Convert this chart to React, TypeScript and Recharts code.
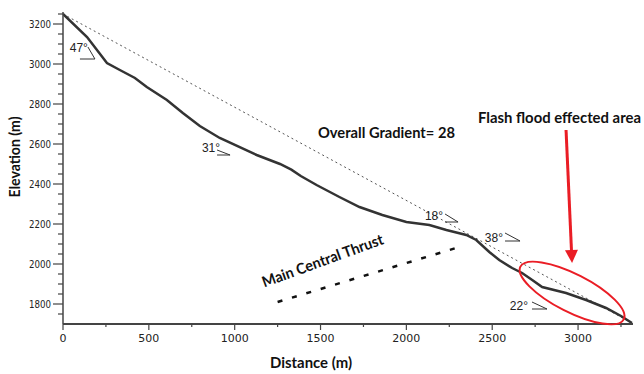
import React from 'react';
import { LineChart, Line, XAxis, YAxis, ReferenceDot, ReferenceLine, Label } from 'recharts';

// Longitudinal profile (distance in m, elevation in m)
const profileDistance = [0, 140, 256, 331, 419, 488, 605, 698, 797, 913, 1128, 1264, 1330, 1385, 1477, 1610, 1727, 1860, 2000, 2134, 2233, 2349, 2407, 2483, 2541, 2616, 2674, 2733, 2791, 2930, 3047, 3163, 3250, 3314];
const profileElevation = [3250, 3135, 3005, 2970, 2930, 2885, 2820, 2755, 2690, 2630, 2545, 2500, 2472, 2440, 2395, 2335, 2285, 2245, 2210, 2195, 2170, 2145, 2120, 2060, 2020, 1980, 1955, 1920, 1885, 1855, 1820, 1780, 1740, 1705];

// Overall gradient straight line
const gradientDistance = [0, 3314];
const gradientElevation = [3250, 1705];

// Main Central Thrust trace
const thrustDistance = [1250, 2308];
const thrustElevation = [1810, 2085];

// Axis ticks
const xTicks = [0, 250, 500, 750, 1000, 1250, 1500, 1750, 2000, 2250, 2500, 2750, 3000, 3250];
const yTicks = [1750, 1800, 1850, 1900, 1950, 2000, 2050, 2100, 2150, 2200, 2250, 2300, 2350, 2400, 2450, 2500, 2550, 2600, 2650, 2700, 2750, 2800, 2850, 2900, 2950, 3000, 3050, 3100, 3150, 3200, 3250];

// Slope angle annotations
const angleLabels = ['47°', '31°', '18°', '38°', '22°'];
const angleDistance = [186, 973, 2301, 2662, 2819];
const angleElevation = [3025, 2545, 2210, 2115, 1775];

// Text annotations
const noteTexts = ['Overall Gradient= 28', 'Flash flood effected area', 'Main Central Thrust'];
const noteDistance = [1485, 2417, 1515];
const noteElevation = [2630, 2705, 2010];

// Flash flood arrow and area
const arrowDistance = [2930, 2965];
const arrowElevation = [2670, 2005];
const areaDistance = 2965;
const areaElevation = 1855;

const profileData = profileDistance.map((d, i) => ({ d, e: profileElevation[i] }));
const gradientData = gradientDistance.map((d, i) => ({ d, e: gradientElevation[i] }));
const thrustData = thrustDistance.map((d, i) => ({ d, e: thrustElevation[i] }));

// styling for annotations (pixel offsets relative to anchor)
const angleStyle = [
  { tx: -7, ty: -7, sx: -7, sy: -12, w: 15 },
  { tx: -10, ty: -3, sx: -13, sy: -5, w: 13 },
  { tx: -15, ty: -2, sx: -13, sy: -8, w: 13 },
  { tx: -17, ty: 1, sx: -15, sy: -8, w: 15 },
  { tx: -19, ty: 1, sx: -15, sy: -7, w: 15 },
];
const noteStyle = [
  { anchor: 'start', len: 137, rot: 0, size: 15 },
  { anchor: 'start', len: 163, rot: 0, size: 15 },
  { anchor: 'middle', len: 128, rot: -20, size: 15 },
];

const RED = '#ea1d25';
const AXIS = '#444';
const TICKFONT = 'DejaVu Sans, Verdana, sans-serif';
const TITLEFONT = 'Lato, Open Sans, sans-serif';

const YTick = (props: any) => {
  const { x, y, payload } = props;
  const major = payload.value % 200 === 0;
  return (
    <g>
      <line x1={x - (major ? 10 : 5)} x2={x} y1={y} y2={y} stroke={AXIS} strokeWidth={1.2} />
      {major && (
        <text x={x - 12} y={y} dy={4} textAnchor="end" fontSize={11} fontFamily={TICKFONT} fill="#222" textLength={22} lengthAdjust="spacingAndGlyphs">
          {payload.value}
        </text>
      )}
    </g>
  );
};

const XTick = (props: any) => {
  const { x, y, payload } = props;
  const major = payload.value % 500 === 0;
  return (
    <g>
      <line x1={x} x2={x} y1={y} y2={y + (major ? 6 : 3)} stroke={AXIS} strokeWidth={1.2} />
      {major && (
        <text x={x} y={y + 18} textAnchor="middle" fontSize={11} fontFamily={TICKFONT} fill="#222">
          {payload.value}
        </text>
      )}
    </g>
  );
};

const makeAngleShape = (i: number) => (props: any) => {
  const { cx, cy } = props;
  const s = angleStyle[i];
  return (
    <g>
      <text x={cx + s.tx} y={cy + s.ty} textAnchor="end" fontSize={12} fontFamily="Liberation Sans, Arial, sans-serif" fill="#222">
        {angleLabels[i]}
      </text>
      <line x1={cx - s.w} y1={cy} x2={cx} y2={cy} stroke="#333" strokeWidth={1} />
      <line x1={cx + s.sx} y1={cy + s.sy} x2={cx} y2={cy} stroke="#333" strokeWidth={1} />
    </g>
  );
};

const makeNoteShape = (i: number) => (props: any) => {
  const { cx, cy } = props;
  const s = noteStyle[i];
  return (
    <text
      x={cx}
      y={cy}
      textAnchor={s.anchor}
      fontSize={s.size}
      fontWeight="bold"
      fontFamily={TITLEFONT}
      fill="#111"
      textLength={s.len}
      lengthAdjust="spacingAndGlyphs"
      transform={s.rot ? `rotate(${s.rot} ${cx} ${cy})` : undefined}
      dominantBaseline={s.rot ? 'middle' : undefined}
    >
      {noteTexts[i]}
    </text>
  );
};

const ellipseShape = (props: any) => {
  const { cx, cy } = props;
  return <ellipse cx={cx} cy={cy} rx={58} ry={19} fill="none" stroke={RED} strokeWidth={2} transform={`rotate(27 ${cx} ${cy})`} />;
};

const arrowShape = (props: any) => {
  const { x1, y1, x2, y2 } = props;
  const dx = x2 - x1;
  const dy = y2 - y1;
  const len = Math.sqrt(dx * dx + dy * dy) || 1;
  const ux = dx / len;
  const uy = dy / len;
  const head = 13;
  const half = 6.5;
  const bx = x2 - ux * head;
  const by = y2 - uy * head;
  return (
    <g>
      <line x1={x1} y1={y1} x2={bx + ux * 2} y2={by + uy * 2} stroke={RED} strokeWidth={3} />
      <polygon points={`${x2},${y2} ${bx - uy * half},${by + ux * half} ${bx + uy * half},${by - ux * half}`} fill={RED} />
    </g>
  );
};

export default function App() {
  return (
    <div style={{ position: 'absolute', left: 0, top: 0, background: '#fff' }}>
      <LineChart width={644} height={374} margin={{ top: 12, right: 11, bottom: 0, left: 0 }}>
        <XAxis
          type="number"
          dataKey="d"
          domain={[0, 3320]}
          ticks={xTicks}
          interval={0}
          tick={<XTick />}
          tickSize={0}
          tickMargin={0}
          tickLine={false}
          axisLine={{ stroke: AXIS, strokeWidth: 2 }}
          height={50}
          allowDataOverflow
        >
          <Label
            content={(p: any) => {
              const vb = p.viewBox;
              return (
                <text x={vb.x + 248} y={vb.y + 44} textAnchor="middle" fontSize={15} fontWeight="bold" fontFamily={TITLEFONT} fill="#111" textLength={82} lengthAdjust="spacingAndGlyphs">
                  Distance (m)
                </text>
              );
            }}
          />
        </XAxis>
        <YAxis
          type="number"
          dataKey="e"
          domain={[1700, 3260]}
          ticks={yTicks}
          interval={0}
          tick={<YTick />}
          tickSize={0}
          tickMargin={0}
          tickLine={false}
          axisLine={{ stroke: AXIS, strokeWidth: 1.5 }}
          width={63}
          allowDataOverflow
        >
          <Label
            content={(p: any) => {
              const vb = p.viewBox;
              const cx = vb.x + 16;
              const cy = vb.y + 145;
              return (
                <text x={cx} y={cy} textAnchor="middle" dominantBaseline="middle" fontSize={15} fontWeight="bold" fontFamily={TITLEFONT} fill="#111" transform={`rotate(-90 ${cx} ${cy})`} textLength={81} lengthAdjust="spacingAndGlyphs">
                  Elevation (m)
                </text>
              );
            }}
          />
        </YAxis>
        <Line data={gradientData} dataKey="e" type="linear" stroke="#555" strokeWidth={1} strokeDasharray="2 3" dot={false} isAnimationActive={false} />
        <Line data={thrustData} dataKey="e" type="linear" stroke="#111" strokeWidth={2.5} strokeDasharray="5 10" dot={false} isAnimationActive={false} />
        <Line data={profileData} dataKey="e" type="linear" stroke="#333" strokeWidth={2.5} dot={false} isAnimationActive={false} />
        {angleLabels.map((_, i) => (
          <ReferenceDot key={'a' + i} x={angleDistance[i]} y={angleElevation[i]} r={0} shape={makeAngleShape(i)} ifOverflow="visible" />
        ))}
        {noteTexts.map((_, i) => (
          <ReferenceDot key={'n' + i} x={noteDistance[i]} y={noteElevation[i]} r={0} shape={makeNoteShape(i)} ifOverflow="visible" />
        ))}
        <ReferenceDot x={areaDistance} y={areaElevation} r={0} shape={ellipseShape} ifOverflow="visible" />
        <ReferenceLine
          segment={[
            { x: arrowDistance[0], y: arrowElevation[0] },
            { x: arrowDistance[1], y: arrowElevation[1] },
          ]}
          shape={arrowShape}
          ifOverflow="visible"
        />
      </LineChart>
    </div>
  );
}
